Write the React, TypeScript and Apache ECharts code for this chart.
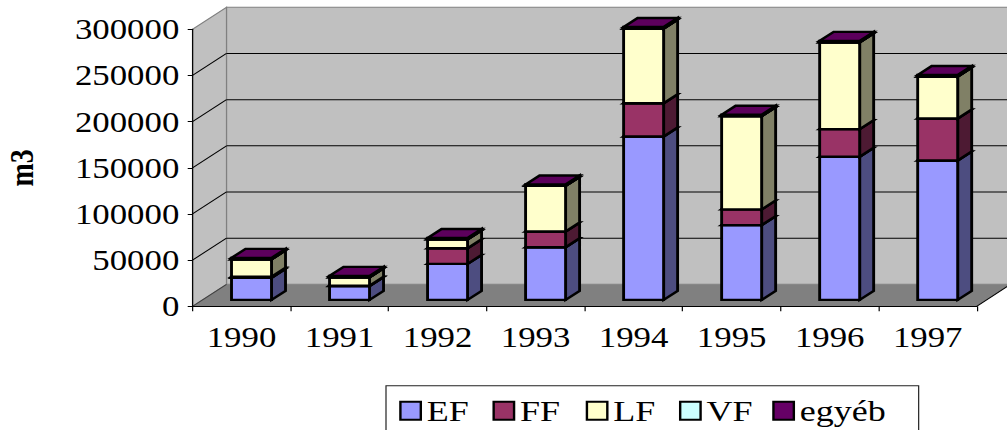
import React, { useEffect, useRef } from "react";
import * as echarts from "echarts";

// ---------- data ----------
const YEARS = ["1990", "1991", "1992", "1993", "1994", "1995", "1996", "1997"];
const SERIES_NAMES = ["EF", "FF", "LF", "VF", "egyéb"];
const EF = [24000, 15000, 39000, 57000, 177000, 81000, 155000, 151000];
const FF = [1000, 500, 17000, 17000, 36000, 17000, 30000, 45500];
const LF = [19000, 9000, 9500, 49500, 81000, 101000, 94000, 45500];
const VF = [0, 0, 0, 0, 0, 0, 0, 0];
const EGYEB = [1500, 1500, 1500, 1500, 1500, 1500, 1500, 1500];
const Y_TICKS = [0, 50000, 100000, 150000, 200000, 250000, 300000];
const Y_MIN = 0;
const Y_MAX = 300000;
const Y_STEP = 50000;
const Y_NAME = "m3";

const SERIES_VALUES = [EF, FF, LF, VF, EGYEB];

// ---------- styles ----------
const FRONT = ["#9999FF", "#993366", "#FFFFCC", "#CCFFFF", "#660066"];
const SIDE = ["#4D4D80", "#4D1A33", "#808066", "#668080", "#330033"];
const TOP = ["#7A7ACC", "#7A2952", "#CCCCA3", "#A3CCCC", "#5C005C"];
const FONT = "'Liberation Serif', 'Times New Roman', serif";

const OUT_W = 1007;
const OUT_H = 430;
const CW = 839;
const S = OUT_W / CW; // horizontal stretch like the reference

const DX = 34 / S; // wall depth
const DY = 22;
const BAR_OFF_X = 10 / S;
const BAR_OFF_Y = 6.4;
const BAR_W = 40 / S;
const BAR_DX = 14 / S;
const BAR_DY = 9;

function barRender(k: number) {
  return (params: any, api: any) => {
    const i = api.value(0);
    const b = api.value(1);
    const t = api.value(2);
    const pb = api.coord([i, b]);
    const pt = api.coord([i, t]);
    const x0 = pb[0] + BAR_OFF_X - BAR_W / 2;
    const x1 = x0 + BAR_W;
    const yb = pb[1] - BAR_OFF_Y;
    const yt = pt[1] - BAR_OFF_Y;
    const st = { stroke: "#000", lineWidth: 2.4, lineJoin: "miter" };
    return {
      type: "group",
      children: [
        {
          type: "polygon",
          shape: { points: [[x1, yb], [x1, yt], [x1 + BAR_DX, yt - BAR_DY], [x1 + BAR_DX, yb - BAR_DY]] },
          style: { ...st, fill: SIDE[k] },
        },
        {
          type: "rect",
          shape: { x: x0, y: yt, width: BAR_W, height: Math.max(0, yb - yt) },
          style: { ...st, fill: FRONT[k] },
        },
        {
          type: "polygon",
          shape: { points: [[x0, yt], [x1, yt], [x1 + BAR_DX, yt - BAR_DY], [x0 + BAR_DX, yt - BAR_DY]] },
          style: { ...st, fill: TOP[k] },
        },
      ],
    };
  };
}

function wallRender(params: any, api: any) {
  const cs = params.coordSys;
  const xl = cs.x;
  const xr = cs.x + cs.width;
  const y0 = cs.y + cs.height;
  const yT = cs.y;
  const children: any[] = [
    {
      type: "rect",
      shape: { x: xl + DX, y: yT - DY, width: xr - xl, height: y0 - yT },
      style: { fill: "#C0C0C0", stroke: "#808080", lineWidth: 1 },
    },
    {
      type: "polygon",
      shape: { points: [[xl, y0], [xl, yT], [xl + DX, yT - DY], [xl + DX, y0 - DY]] },
      style: { fill: "#C0C0C0", stroke: "#808080", lineWidth: 1 },
    },
    {
      type: "polygon",
      shape: { points: [[xl, y0], [xr, y0], [xr + DX, y0 - DY], [xl + DX, y0 - DY]] },
      style: { fill: "#808080" },
    },
    {
      type: "line",
      shape: { x1: xr, y1: y0, x2: xr + DX, y2: y0 - DY },
      style: { stroke: "#000", lineWidth: 1 },
    },
    {
      type: "line",
      shape: { x1: xl, y1: y0, x2: xl + DX, y2: y0 - DY },
      style: { stroke: "#404040", lineWidth: 1 },
    },
  ];
  Y_TICKS.forEach((v) => {
    if (v === Y_MIN || v === Y_MAX) return;
    const y = api.coord([0, v])[1];
    children.push({
      type: "line",
      shape: { x1: xl + DX, y1: y - DY, x2: xr + DX, y2: y - DY },
      style: { stroke: "#000", lineWidth: 1 },
    });
    children.push({
      type: "line",
      shape: { x1: xl, y1: y, x2: xl + DX, y2: y - DY },
      style: { stroke: "#000", lineWidth: 1 },
    });
  });
  return { type: "group", children };
}

function buildOption() {
  const cum = YEARS.map(() => 0);
  const barSeries = SERIES_NAMES.map((name, k) => {
    const data = YEARS.map((_, i) => {
      const base = cum[i];
      const top = base + SERIES_VALUES[k][i];
      cum[i] = top;
      return [i, base, top];
    });
    return {
      type: "custom",
      name,
      z: 3,
      itemStyle: { color: FRONT[k] },
      encode: { x: 0, y: [1, 2] },
      renderItem: barRender(k),
      data,
    };
  });

  return {
    animation: false,
    backgroundColor: "#fff",
    grid: {
      left: 192.5 / S,
      right: CW - 976.7 / S,
      top: 29.3,
      bottom: OUT_H - 306.3,
      containLabel: false,
      outerBoundsMode: "none",
    },
    xAxis: {
      type: "category",
      data: YEARS,
      z: 10,
      axisLine: { show: true, lineStyle: { color: "#000", width: 1 } },
      axisTick: { show: true, length: 5, lineStyle: { color: "#000" } },
      axisLabel: { color: "#000", fontFamily: FONT, fontSize: 29, margin: 16 },
      splitLine: { show: false },
    },
    yAxis: {
      type: "value",
      min: Y_MIN,
      max: Y_MAX,
      interval: Y_STEP,
      z: 10,
      name: Y_NAME,
      nameLocation: "middle",
      nameRotate: 90,
      nameGap: 130,
      nameTextStyle: {
        color: "#000",
        fontFamily: FONT,
        fontSize: 28,
        fontWeight: "bold",
        lineHeight: 24,
      },
      axisLine: { show: true, lineStyle: { color: "#000", width: 1 } },
      axisTick: { show: true, length: 4, lineStyle: { color: "#000" } },
      axisLabel: {
        color: "#000",
        fontFamily: FONT,
        fontSize: 29,
        margin: 11,
        formatter: (v: number) => String(v),
      },
      splitLine: { show: false },
    },
    legend: {
      data: SERIES_NAMES,
      left: 386 / S,
      top: 385.7,
      orient: "horizontal",
      icon: "rect",
      itemWidth: 17,
      itemHeight: 18,
      itemGap: 14.7,
      padding: [10, 18, 10, 11],
      backgroundColor: "#fff",
      borderColor: "#222",
      borderWidth: 1,
      borderRadius: 0,
      itemStyle: { borderColor: "#000", borderWidth: 2 },
      formatter: (name: string) => (name === "egyéb" ? `{w|${name}}` : `{n|${name}}`),
      textStyle: {
        color: "#000",
        fontFamily: FONT,
        fontSize: 30,
        rich: {
          n: { width: 40, fontFamily: FONT, fontSize: 30, lineHeight: 30, color: "#000" },
          w: { width: 81, fontFamily: FONT, fontSize: 30, lineHeight: 30, color: "#000" },
        },
      },
    },
    series: [
      {
        type: "custom",
        name: "walls",
        z: 1,
        silent: true,
        encode: { x: 0, y: 1 },
        renderItem: wallRender,
        data: [[0, 0]],
      },
      ...barSeries,
    ],
  };
}

export default function App() {
  const ref = useRef<HTMLDivElement>(null);
  useEffect(() => {
    if (!ref.current) return;
    const chart = echarts.init(ref.current, undefined, { renderer: "svg" });
    chart.setOption(buildOption() as any);
    return () => chart.dispose();
  }, []);
  return (
    <div
      style={{
        position: "fixed",
        left: 0,
        top: 0,
        width: CW,
        height: OUT_H,
        transform: `scaleX(${S})`,
        transformOrigin: "0 0",
        background: "#fff",
      }}
    >
      <div ref={ref} style={{ width: CW, height: OUT_H }} />
    </div>
  );
}
